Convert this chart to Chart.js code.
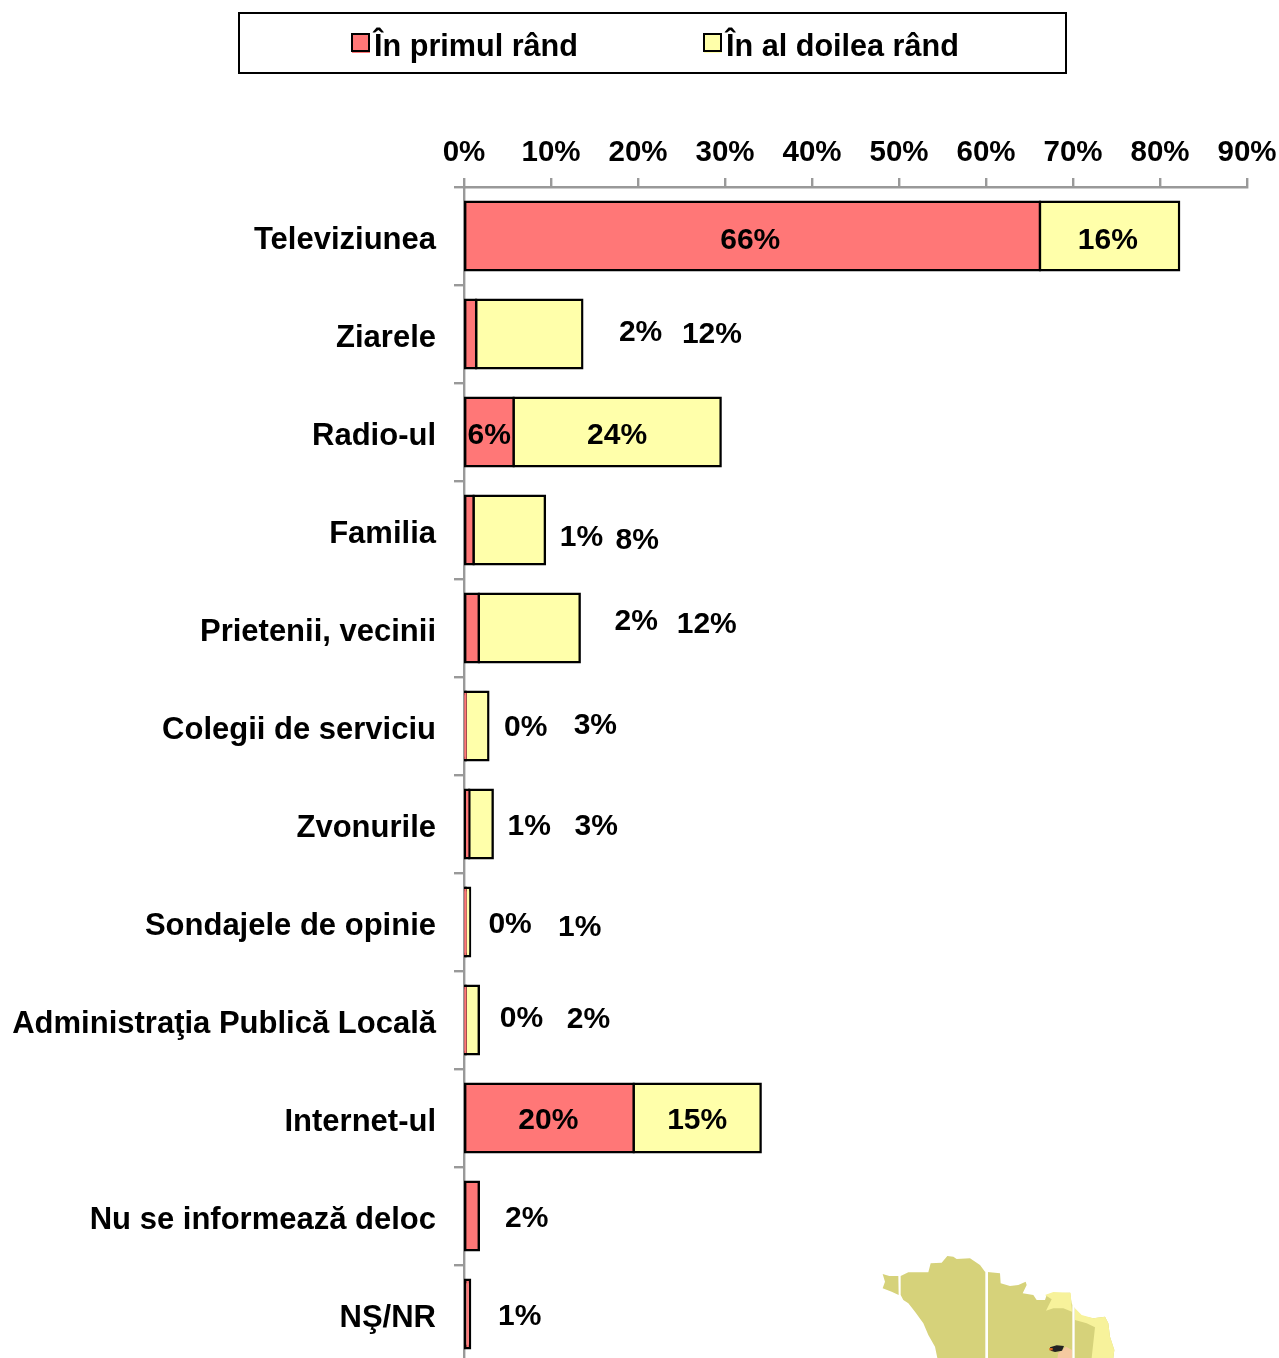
<!DOCTYPE html>
<html>
<head>
<meta charset="utf-8">
<title>Surse de informare</title>
<script src="https://cdn.jsdelivr.net/npm/chart.js@4/dist/chart.umd.min.js"></script>
<style>
html, body { margin: 0; padding: 0; background: #fff; }
#wrap { position: relative; width: 1279px; height: 1358px; overflow: hidden; }
#myChart { position: absolute; left: 0; top: 0; }
#map { position: absolute; left: 860px; top: 1240px; }
</style>
</head>
<body>
<div id="wrap">
<canvas id="myChart" width="1279" height="1400"></canvas>
<!-- bit of a map behind the chart, scaled from a 3x crop -->
<svg id="map" width="280" height="118" viewBox="0 0 840 354">
  <polygon fill="#d6d27a" points="68,102 88,108 115,108 116,165 95,155 68,145 75,125"/>
  <polygon fill="#d6d27a" points="122,108 145,97 205,97 212,70 245,68 262,48 280,50 290,57 330,55 360,75 375,95 420,100 422,130 450,138 475,135 497,125 500,135 488,160 520,165 530,180 555,180 560,165 580,160 630,158 635,190 645,205 645,225 700,235 735,230 745,250 750,290 763,330 760,354 232,354 225,320 205,285 190,250 165,215 145,190 130,180 122,165"/>
  <polygon fill="#f7f29b" points="555,165 580,156 632,158 636,215 610,205 580,205 558,212 575,178"/>
  <polygon fill="#f7f29b" points="645,205 665,225 700,235 735,230 745,250 750,290 763,330 760,354 695,354 705,262 680,250 645,240"/>
  <polygon fill="#f5c9a0" points="595,340 618,320 636,330 636,354 592,354"/>
  <rect x="376" y="90" width="8" height="264" fill="#fff"/>
  <rect x="637" y="185" width="7" height="169" fill="#fff"/>
  <polygon fill="#222" points="570,322 590,316 612,318 606,332 585,336 572,332"/>
  <rect x="568" y="324" width="10" height="7" fill="#d8641c"/>
</svg>
</div>
<script>
const categories = ["Televiziunea", "Ziarele", "Radio-ul", "Familia", "Prietenii, vecinii", "Colegii de serviciu",
    "Zvonurile", "Sondajele de opinie", "Administraţia Publică Locală", "Internet-ul", "Nu se informează deloc", "NŞ/NR"];
const seriesNames = ["În primul rând", "În al doilea rând"];
const primulRand = [66.2, 1.4, 5.7, 1.1, 1.7, 0.2, 0.6, 0.2, 0.2, 19.5, 1.7, 0.7];
const doileaRand = [16.0, 12.2, 23.8, 8.2, 11.6, 2.6, 2.7, 0.5, 1.5, 14.6, null, null];
const primulText = ["66%", "2%", "6%", "1%", "2%", "0%", "1%", "0%", "0%", "20%", "2%", "1%"];
const doileaText = ["16%", "12%", "24%", "8%", "12%", "3%", "3%", "1%", "2%", "15%", "", ""];
const xTicks = [0, 10, 20, 30, 40, 50, 60, 70, 80, 90];

// the labels in the original were dragged by hand, so keep where each one sits
// x is in axis percent, y is pixels away from the middle of the category
const primulAt = [32.9, 20.3, 2.9, 13.5, 19.8, 7.1, 7.5, 5.3, 6.6, 9.7, 7.2, 6.4];
const doileaAt = [74.0, 28.5, 17.6, 19.9, 27.9, 15.1, 15.2, 13.3, 14.3, 26.8, 0, 0];
const primulDy = [5, -1, 4, 8, -6, 2, 3, 3, -1, 3, 3, 3];
const doileaDy = [5, 1, 4, 11, -3, 0, 3, 6, 0, 3, 0, 0];

const FONT = 'bold 30px "Liberation Sans", Arial, sans-serif';
const RED = '#ff7777';
const YELLOW = '#ffffaa';
const GREY = '#999999';

const percentLabels = {
    id: 'percentLabels',
    afterDatasetsDraw(chart){
        const ctx = chart.ctx;
        const x = chart.scales.x;
        const y = chart.scales.y;
        ctx.save();
        ctx.font = FONT;
        ctx.fillStyle = '#000';
        ctx.textAlign = 'center';
        ctx.textBaseline = 'middle';
        categories.forEach(function(c, i){
            let middle = y.getPixelForValue(i);
            ctx.fillText(primulText[i], x.getPixelForValue(primulAt[i]), middle + primulDy[i]);
            if(doileaText[i] != ""){
                ctx.fillText(doileaText[i], x.getPixelForValue(doileaAt[i]), middle + doileaDy[i]);
            }
        });
        ctx.restore();
    }
};

const boxedLegend = {
    id: 'boxedLegend',
    afterDraw(chart){
        const ctx = chart.ctx;
        ctx.save();
        ctx.strokeStyle = '#000';
        ctx.lineWidth = 2;
        ctx.strokeRect(239, 13, 827, 60);
        const swatchX = [352, 704];
        const textX = [374, 726];
        ctx.font = 'bold 30.6px "Liberation Sans", Arial, sans-serif';
        ctx.textBaseline = 'middle';
        chart.data.datasets.forEach(function(ds, i){
            ctx.fillStyle = ds.backgroundColor;
            ctx.fillRect(swatchX[i], 34, 18, 19);
            ctx.strokeRect(swatchX[i], 34, 17, 17);
            ctx.fillStyle = '#000';
            ctx.fillText(ds.label, textX[i], 48);
        });
        ctx.restore();
    }
};

const CTX = document.getElementById('myChart').getContext('2d');
const CONFIG = {
    type: 'bar',
    data: {
        labels: categories,
        datasets: [{
            label: seriesNames[0],
            data: primulRand,
            backgroundColor: RED,
            borderColor: '#000',
            borderWidth: 2.4,
            borderSkipped: false,
            inflateAmount: 1.2
        }, {
            label: seriesNames[1],
            data: doileaRand,
            backgroundColor: YELLOW,
            borderColor: '#000',
            borderWidth: 2.4,
            borderSkipped: false,
            inflateAmount: 1.2
        }]
    },
    options: {
        indexAxis: 'y',
        responsive: false,
        animation: false,
        barPercentage: 0.7,
        categoryPercentage: 1,
        layout: { padding: { right: 32, bottom: 37 } },
        plugins: {
            legend: { display: false },
            tooltip: { enabled: false }
        },
        scales: {
            x: {
                position: 'top',
                stacked: true,
                min: 0,
                max: 90,
                afterBuildTicks(scale){
                    scale.ticks = xTicks.map(v => ({ value: v }));
                },
                afterFit(scale){
                    scale.height = 187;
                    scale.paddingRight = 0;
                },
                grid: { drawOnChartArea: false, color: GREY, lineWidth: 2.4, tickLength: 9 },
                border: { color: GREY, width: 2.4 },
                ticks: {
                    color: '#000',
                    font: { family: '"Liberation Sans", Arial, sans-serif', weight: 'bold', size: 29.5 },
                    padding: 7,
                    maxRotation: 0,
                    callback: v => v + '%'
                }
            },
            y: {
                stacked: true,
                afterFit(scale){ scale.width = 464; },
                grid: { drawOnChartArea: false, color: GREY, lineWidth: 2.4, tickLength: 10, offset: true },
                border: { color: GREY, width: 2.4 },
                ticks: {
                    color: '#000',
                    font: { family: '"Liberation Sans", Arial, sans-serif', weight: 'bold', size: 31 },
                    padding: 18,
                    labelOffset: 4,
                    autoSkip: false
                }
            }
        }
    },
    plugins: [percentLabels, boxedLegend]
};

var myChart = new Chart(CTX, CONFIG);
</script>
</body>
</html>
